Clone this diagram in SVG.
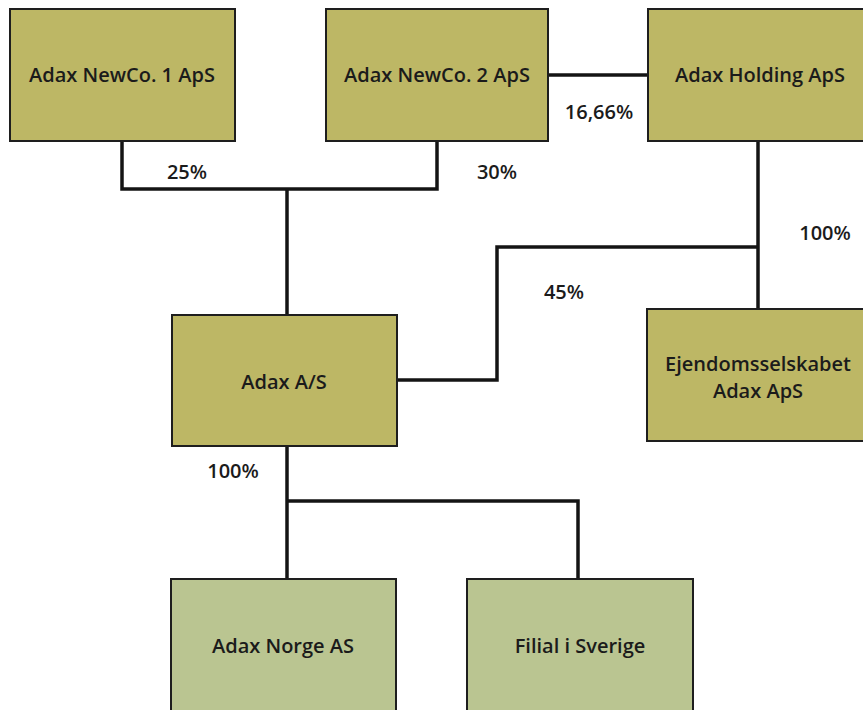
<svg xmlns="http://www.w3.org/2000/svg" width="863" height="710" viewBox="0 0 863 710">
<style>
.box{stroke:#1e1e1e;stroke-width:2}
.olive{fill:#bdb765}
.sage{fill:#bac591}
.lbl{font-family:"Open Sans","Liberation Sans",sans-serif;font-size:20px;font-weight:600;fill:#1b1b1b;text-anchor:middle}
.con{stroke:#141414;stroke-width:3.5;fill:none;stroke-linejoin:miter}
</style>
<rect width="863" height="710" fill="#ffffff"/>
<g id="connectors">
<polyline class="con" points="122,141 122,189 437,189 437,141"/>
<line class="con" x1="287" y1="189" x2="287" y2="315"/>
<line class="con" x1="548" y1="75" x2="648" y2="75"/>
<line class="con" x1="758" y1="141" x2="758" y2="309"/>
<polyline class="con" points="397,380 497,380 497,247 758,247"/>
<polyline class="con" points="287,446 287,579"/>
<polyline class="con" points="287,501 578,501 578,579"/>
</g>
<g id="newco1">
<rect class="box olive" x="10" y="9" width="225" height="132"/>
<text class="lbl" x="122" y="82">Adax NewCo. 1 ApS</text>
</g>
<g id="newco2">
<rect class="box olive" x="326" y="9" width="222" height="132"/>
<text class="lbl" x="437" y="82">Adax NewCo. 2 ApS</text>
</g>
<g id="holding">
<rect class="box olive" x="648" y="9" width="224" height="132"/>
<text class="lbl" x="760" y="82">Adax Holding ApS</text>
</g>
<g id="adaxas">
<rect class="box olive" x="172" y="315" width="225" height="131"/>
<text class="lbl" x="284" y="389">Adax A/S</text>
</g>
<g id="ejendom">
<rect class="box olive" x="647" y="309" width="224" height="132"/>
<text class="lbl" x="758" y="371">Ejendomsselskabet</text>
<text class="lbl" x="758" y="398">Adax ApS</text>
</g>
<g id="norge">
<rect class="box sage" x="171" y="579" width="225" height="132"/>
<text class="lbl" x="283" y="653">Adax Norge AS</text>
</g>
<g id="filial">
<rect class="box sage" x="467" y="579" width="226" height="132"/>
<text class="lbl" x="580" y="653">Filial i Sverige</text>
</g>
<g id="labels">
<text class="lbl" x="187" y="179">25%</text>
<text class="lbl" x="497" y="179">30%</text>
<text class="lbl" x="599" y="119">16,66%</text>
<text class="lbl" x="825" y="240">100%</text>
<text class="lbl" x="564" y="299">45%</text>
<text class="lbl" x="233" y="478">100%</text>
</g>
</svg>
